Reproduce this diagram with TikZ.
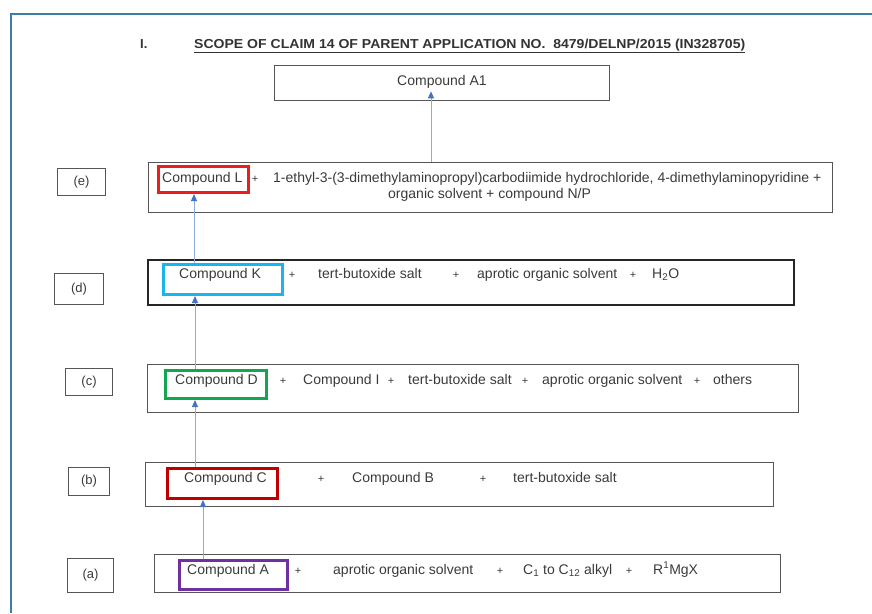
\documentclass[tikz,border=0pt]{standalone}
\usepackage{fontspec}
\setmainfont{Liberation Sans}
\usetikzlibrary{arrows.meta}
\definecolor{tcol}{HTML}{3A3A3A}
\definecolor{bcol}{HTML}{555555}
\definecolor{framecol}{HTML}{3B7EA6}
\definecolor{lcol}{HTML}{8FAADC}
\definecolor{acol}{HTML}{4472C4}
\definecolor{hlred}{HTML}{EE1C1C}
\definecolor{hlcyan}{HTML}{1CB4EE}
\definecolor{hlgreen}{HTML}{13A651}
\definecolor{hldred}{HTML}{C00000}
\definecolor{hlpurple}{HTML}{7030A0}
\tikzset{
  txt/.style={font=\fontsize{14}{16}\selectfont, text=tcol, inner sep=0pt, anchor=base west},
  plus/.style={font=\fontsize{11}{13}\selectfont, text=tcol, inner sep=0pt, anchor=base},
  mainbox/.style={draw=bcol, line width=1.3pt, anchor=north west, inner sep=0pt},
  labbox/.style={draw=bcol, line width=1.1pt, anchor=north west, inner sep=0pt,
    font=\fontsize{13}{15}\selectfont, text=tcol},
  hlbox/.style={line width=3pt, anchor=north west, inner sep=0pt},
  ttl/.style={anchor=base west, inner sep=0pt, font=\bfseries\fontsize{13}{15}\selectfont, text=black!80},
  arr/.style={draw=lcol, line width=1pt, -{Triangle[color=acol, fill=acol, length=7pt, width=6pt]}}
}
\begin{document}
\begin{tikzpicture}[x=1pt,y=-1pt]
\useasboundingbox (0,0) rectangle (872,613);
% frame
\coordinate (fbl) at (11,613);
\coordinate (ftl) at (11,14);
\coordinate (ftr) at (872,14);
\draw[framecol, line width=1.5pt] (fbl) -- (ftl) -- (ftr);
% title
\node[ttl] (tnum) at (140,48) {I.};
\node[ttl] (title) at (194,48) {\scalebox{1.08}[1]{\underline{SCOPE OF CLAIM 14 OF PARENT APPLICATION NO.\ \ 8479/DELNP/2015 (IN328705)}}};
% A1
\node[mainbox, minimum width=335pt, minimum height=35pt] (A1) at (274,65) {};
\node[txt] (A1t) at (397,85) {Compound A1};
% row e
\node[labbox, minimum width=48pt, minimum height=27pt] (le) at (57,168) {(e)};
\node[mainbox, minimum width=684pt, minimum height=50pt] (E) at (148,162) {};
\node[hlbox, draw=hlred, minimum width=90pt, minimum height=26pt] (Lh) at (157,165) {};
\node[txt] (Lt) at (162,182) {Compound L};
\node[plus] (ep1) at (255,182) {+};
\node[txt] (e1) at (273,182) {1-ethyl-3-(3-dimethylaminopropyl)carbodiimide hydrochloride, 4-dimethylaminopyridine +};
\node[txt] (e2) at (388,198) {organic solvent + compound N/P};
% row d
\node[labbox, minimum width=49pt, minimum height=31pt] (ld) at (54,273) {(d)};
\node[mainbox, draw=black!85, line width=2pt, minimum width=646pt, minimum height=45pt] (D) at (147,259) {};
\node[hlbox, draw=hlcyan, minimum width=119pt, minimum height=30pt] (Kh) at (162,263) {};
\node[txt] (Kt) at (179,278) {Compound K};
\node[plus] (dp1) at (292,278) {+};
\node[txt] (d1) at (318,278) {tert-butoxide salt};
\node[plus] (dp2) at (456,278) {+};
\node[txt] (d2) at (477,278) {aprotic organic solvent};
\node[plus] (dp3) at (633,278) {+};
\node[txt] (d3) at (652,278) {H\textsubscript{2}O};
% row c
\node[labbox, minimum width=47pt, minimum height=27pt] (lc) at (65,368) {(c)};
\node[mainbox, minimum width=651pt, minimum height=48pt] (C) at (147,364) {};
\node[hlbox, draw=hlgreen, minimum width=101pt, minimum height=28pt] (Dh) at (164,369) {};
\node[txt] (Dt) at (175,384) {Compound D};
\node[plus] (cp1) at (283,384) {+};
\node[txt] (c1) at (303,384) {Compound I};
\node[plus] (cp2) at (391,384) {+};
\node[txt] (c2) at (408,384) {tert-butoxide salt};
\node[plus] (cp3) at (525,384) {+};
\node[txt] (c3) at (542,384) {aprotic organic solvent};
\node[plus] (cp4) at (697,384) {+};
\node[txt] (c4) at (713,384) {others};
% row b
\node[labbox, minimum width=41pt, minimum height=28pt] (lb) at (68,467) {(b)};
\node[mainbox, minimum width=628pt, minimum height=44pt] (B) at (145,462) {};
\node[hlbox, draw=hldred, minimum width=110pt, minimum height=30pt] (Ch) at (166,467) {};
\node[txt] (Ct) at (184,482) {Compound C};
\node[plus] (bp1) at (321,482) {+};
\node[txt] (b1) at (352,482) {Compound B};
\node[plus] (bp2) at (483,482) {+};
\node[txt] (b2) at (513,482) {tert-butoxide salt};
% row a
\node[labbox, minimum width=46pt, minimum height=34pt] (la) at (67,558) {(a)};
\node[mainbox, minimum width=626pt, minimum height=38pt] (A) at (154,554) {};
\node[hlbox, draw=hlpurple, minimum width=108pt, minimum height=29pt] (Ah) at (178,559) {};
\node[txt] (At) at (187,574) {Compound A};
\node[plus] (ap1) at (298,574) {+};
\node[txt] (a1) at (333,574) {aprotic organic solvent};
\node[plus] (ap2) at (500,574) {+};
\node[txt] (a2) at (523,574) {C\textsubscript{1} to C\textsubscript{12} alkyl};
\node[plus] (ap3) at (629,574) {+};
\node[txt] (a3) at (653,574) {R\textsuperscript{1}MgX};
% arrows
\coordinate (x431) at (431,0);
\coordinate (x194) at (194,0);
\coordinate (x195) at (195,0);
\coordinate (x203) at (203,0);
\draw[arr, shorten >=-10pt] (x431 |- E.north) -- (x431 |- A1.south);
\draw[arr] (x194 |- Kh.north) -- (x194 |- Lh.south);
\draw[arr] (x195 |- Dh.north) -- (x195 |- Kh.south);
\draw[arr] (x195 |- Ch.north) -- (x195 |- Dh.south);
\draw[arr] (x203 |- Ah.north) -- (x203 |- Ch.south);
\end{tikzpicture}
\end{document}
